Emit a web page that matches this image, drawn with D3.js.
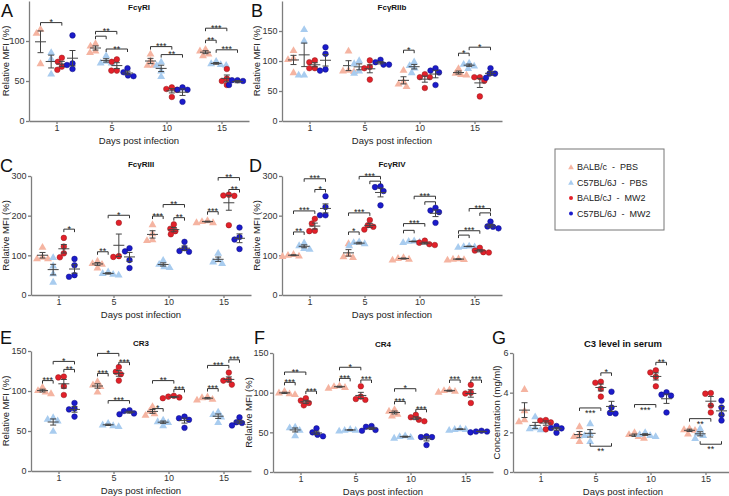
<!DOCTYPE html>
<html><head><meta charset="utf-8">
<script src="https://cdn.jsdelivr.net/npm/d3@7"></script>
<style>
body{margin:0;background:#fff}
text{font-family:"Liberation Sans",Arial,sans-serif}
</style></head><body><svg id="c" width="729" height="496"></svg>
<script>
// ---------- data ----------
const days = ["1", "5", "10", "15"];
const groupNames = ["BALB/c  -  PBS", "C57BL/6J  -  PBS", "BALB/cJ  -  MW2", "C57BL/6J  -  MW2"];

// values per day: [BALB/c PBS, C57BL/6J PBS, BALB/cJ MW2, C57BL/6J MW2]
const fcgr1 = [
  [[115,110,72],[86,78,59],[79,74,68,64],[107,72,70,65]],
  [[97,94,88,86],[82,75,73,73],[77,74,63,63],[66,61,57,56]],
  [[84,76,70,70],[74,70,63,56],[42,40,39,30],[42,39,39,24]],
  [[90,88,84,82],[75,72,71,70],[65,53,50,45],[51,51,50,45]]
];
const fcgr2b = [
  [[118,105,103,81],[153,134,77,77],[101,98,88,88],[123,112,86,84]],
  [[117,85,84,83],[101,96,84,80],[101,90,88,69],[102,98,94,94]],
  [[85,66,62,58],[99,93,89,81],[78,73,73,55],[88,84,81,60]],
  [[88,80,78,77],[97,95,92,88],[73,73,67,41],[88,79,79,72]]
];
const fcgr3 = [
  [[121,96,92,92],[95,74,54,33],[144,122,105,95],[91,75,50,46]],
  [[86,80,78,69],[59,55,53,51],[182,98,96],[118,110,88,68]],
  [[178,155,140,138],[88,78,72,70],[178,167,161,153],[134,118,111,109]],
  [[188,186,183,183],[106,90,84,80],[253,251,250,176],[170,146,140,116]]
];
const fcgr4 = [
  [[103,101,99,98],[132,125,118,116],[192,180,162,161],[249,222,201,201]],
  [[130,103,97,95],[135,133,130,125],[189,176,172,165],[274,272,262,226]],
  [[95,93,91,89],[137,136,134,133],[137,132,128,126],[220,213,209,182]],
  [[92,91,90,89],[124,123,122,121],[119,112,108,107],[185,173,172,168]]
];
const cr3 = [
  [[105,101,99,97],[67,65,63,50],[118,117,106,95],[85,78,77,68]],
  [[112,108,106,99],[60,58,57,56],[130,124,121,113],[76,75,72,71]],
  [[81,75,72,70],[64,62,61,57],[94,93,92,91],[68,66,64,54]],
  [[93,92,90,89],[74,71,68,61],[123,114,113,108],[67,61,60,57]]
];
const cr4 = [
  [[102,100,99,98],[57,56,53,46],[93,90,87,84],[55,50,47,45]],
  [[109,108,107,106],[54,53,53,52],[108,95,92,91],[58,57,53,52]],
  [[79,77,73,71],[46,45,44,43],[72,69,66,64],[45,44,44,34]],
  [[104,103,102,101],[55,54,54,53],[110,100,99,87],[52,51,51,50]]
];
const c3serum = [
  [[4.18,3.1,2.65,2.55],[2.8,2.25,2.2,2.15],[2.62,2.6,2.5,2.15],[2.32,2.22,2.2,1.98]],
  [[2.3,1.9,1.8,1.55],[2.45,1.95,1.85,1.55],[4.55,4.5,4.2,3.8],[4.05,3.25,2.98,2.95]],
  [[2.0,1.9,1.8,1.72],[2.0,1.9,1.85,1.8],[5.13,5.02,4.8,4.32],[4.02,3.9,3.85,3.0]],
  [[2.2,2.15,2.12,1.93],[2.2,1.95,1.85,1.7],[3.98,3.95,3.35,3.0],[3.6,3.25,2.88,2.6]]
];

// significance brackets: [dayIndex, fromGroup, toGroup, value, label, mode]
const fcgr1Sig = [[0,0,2,123,"*"],[1,0,2,112,"**"],[1,0,1,106,""],[1,1,3,90,"**"],[2,0,2,93,"***"],[2,1,3,83,"**"],[3,0,2,116,"***"],[3,0,1,101,"**"],[3,1,3,89,"***"]];
const fcgr2bSig = [[2,0,1,118,"*"],[3,0,1,113,"*"],[3,1,3,123,"*"]];
const fcgr3Sig = [[0,2,3,166,"*"],[1,0,1,109,"**"],[1,1,3,201,"*"],[2,0,1,199,"***"],[2,1,3,228,"**"],[2,2,3,195,"**"],[3,0,1,210,"***"],[3,1,3,296,"**"],[3,2,3,266,"**"]];
const fcgr4Sig = [[0,0,1,159,"**"],[0,0,2,212,"***"],[0,2,3,266,"*"],[0,1,3,293,"***"],[1,0,1,159,"*"],[1,0,2,207,"***"],[1,2,3,287,""],[1,1,3,299,"***"],[2,0,1,163,""],[2,0,2,180,"***"],[2,2,3,235,""],[2,1,3,249,"***"],[3,0,1,151,""],[3,0,2,162,"***"],[3,2,3,207,""],[3,1,3,218,"***"]];
const cr3Sig = [[0,0,1,113,"***"],[0,1,3,137,"*"],[0,2,3,127,"**"],[1,0,2,147,"*"],[1,0,1,122,"***"],[1,2,3,136,"***"],[1,1,3,88,"***"],[2,0,2,113,"**"],[2,0,1,78,"*"],[2,2,3,102,"***"],[3,0,2,132,"***"],[3,0,1,103,"***"],[3,2,3,139,"***"]];
const cr4Sig = [[0,0,2,126,"**"],[0,0,1,113,"***"],[0,2,3,102,"***"],[1,0,2,132,"*"],[1,0,1,118,"***"],[1,2,3,116,"***"],[2,0,2,105,"*"],[2,0,1,89,"***"],[2,2,3,79,"***"],[3,0,1,116,"***"],[3,2,3,116,"***"]];
const c3Sig = [[1,0,2,3.23,"***",1],[1,2,3,5.0,"*"],[1,1,3,1.3,"**",2],[2,0,2,3.4,"***",1],[2,2,3,5.53,"**"],[3,0,2,2.69,"**",1],[3,1,3,1.4,"**",2]];

const yTicksMFI150 = [0,50,100,150];
const yTicksMFI300 = [0,100,200,300];
const yTicksConc = [0,2,4,6];

// ---------- styles ----------
const fills = ["#F5B4A1","#A8CCEF","#E3202A","#1B1BCB"];
const strokes = [null,null,"#8e1a1a","#0c0c7a"];
const axisColor = "#7d7d7d";
const barColor = "#444";

const svg = d3.select("#c");

const panels = [
  {letter:"A", lx:1,   ly:17,  title:"FcγRI",   tdy:9,  data:fcgr1, sig:fcgr1Sig, max:150, ticks:[0,50,100], x0:29,  y0:121, y1:1,   ylab:"Relative MFI (%)", ylx:5, tsize:8},
  {letter:"B", lx:251, ly:17,  title:"FcγRIIb", tdy:9,  data:fcgr2b, sig:fcgr2bSig, max:200, ticks:[0,50,100,150], x0:282, y0:121, y1:1, ylab:"Relative MFI (%)", ylx:256, tsize:8},
  {letter:"C", lx:0,   ly:172, title:"FcγRIII", tdy:-9, data:fcgr3, sig:fcgr3Sig, max:300, ticks:yTicksMFI300, x0:31, y0:295, y1:176, ylab:"Relative MFI (%)", ylx:5, tsize:8},
  {letter:"D", lx:249, ly:172, title:"FcγRIV",  tdy:-9, data:fcgr4, sig:fcgr4Sig, max:300, ticks:yTicksMFI300, x0:282, y0:295, y1:176, ylab:"Relative MFI (%)", ylx:256, tsize:8},
  {letter:"E", lx:0,   ly:344, title:"CR3",     tdy:-5, data:cr3, sig:cr3Sig, max:150, ticks:yTicksMFI150, x0:31, y0:471, y1:351, ylab:"Relative MFI (%)", ylx:5, tsize:8},
  {letter:"F", lx:254, ly:344, title:"CR4",     tdy:-6, data:cr4, sig:cr4Sig, max:150, ticks:yTicksMFI150, x0:273, y0:472, y1:353, ylab:"Relative MFI (%)", ylx:248, tsize:8},
  {letter:"G", lx:492, ly:344, title:"C3 level in serum", tdy:-6, data:c3serum, sig:c3Sig, max:6, ticks:yTicksConc, x0:513, y0:472, y1:353, ylab:"Concentration (mg/ml)", ylx:496, tsize:9.5}
];

const R = 2.8;
const triPath = d3.symbol().type(d3.symbolTriangle).size(27)();

function swarm(vals, y){
  const placed = [];
  vals.map((v,i)=>({v,i})).sort((a,b)=>b.v-a.v).forEach(o=>{
    const py = y(o.v);
    for(let k=0;k<60;k++){
      const dx = (k%2===0?1:-1)*Math.ceil(k/2)*0.5;
      if(placed.every(q=>Math.hypot(q.dx-dx,q.py-py)>=R*1.95)){placed.push({dx,py,v:o.v});break;}
    }
  });
  return placed;
}

function drawPanel(p){
  const g = svg.append("g");
  const x = d3.scalePoint().domain(days).range([p.x0, p.x0+220]).padding(0.5);
  const off = d3.scalePoint().domain(d3.range(4)).range([-16,16]);
  const y = d3.scaleLinear().domain([0,p.max]).range([p.y0,p.y1]);

  // letter & title
  g.append("text").attr("x",p.lx).attr("y",p.ly).attr("font-size",18).attr("fill","#111").text(p.letter);
  g.append("text").attr("x",p.x0+110).attr("y",p.y1+p.tdy)
    .attr("text-anchor","middle").attr("font-size",p.tsize).attr("font-weight","bold").attr("fill","#111").text(p.title);

  // axes
  const xa = g.append("g").attr("transform",`translate(0,${p.y0})`)
    .call(d3.axisBottom(x).tickSize(3).tickSizeOuter(0).tickPadding(1));
  const ya = g.append("g").attr("transform",`translate(${p.x0},0)`)
    .call(d3.axisLeft(y).tickValues(p.ticks).tickFormat(d3.format("d")).tickSize(3).tickSizeOuter(0).tickPadding(1.5));
  [xa,ya].forEach(a=>{
    a.selectAll("path,line").attr("stroke",axisColor).attr("stroke-width",1.3);
    a.selectAll("text").attr("font-size",9).attr("fill","#333").attr("font-family","'Liberation Sans',Arial,sans-serif");
  });
  g.append("text").attr("x",p.x0+110).attr("y",p.y0+23).attr("text-anchor","middle")
    .attr("font-size",9.5).attr("fill","#222").text("Days post infection");
  g.append("text").attr("transform",`translate(${p.ylx+3.5},${(p.y0+p.y1)/2}) rotate(-90)`)
    .attr("text-anchor","middle").attr("font-size",9.5).attr("fill","#222").text(p.ylab);

  // points and error bars
  p.data.forEach((dayVals, di)=>{
    dayVals.forEach((vals, gi)=>{
      const cx = x(days[di]) + off(gi);
      const pts = swarm(vals, y);
      const gg = g.append("g");
      pts.forEach(pt=>{
        if(gi<2){
          gg.append("path").attr("d",triPath).attr("transform",`translate(${cx+pt.dx},${pt.py+0.5})`).attr("fill",fills[gi]);
        } else {
          gg.append("circle").attr("cx",cx+pt.dx).attr("cy",pt.py).attr("r",R)
            .attr("fill",fills[gi]).attr("stroke",strokes[gi]).attr("stroke-width",0.5);
        }
      });
      const m = d3.mean(vals);
      const se = d3.deviation(vals)/Math.sqrt(vals.length);
      const eb = g.append("g").attr("stroke",barColor).attr("stroke-width",1).attr("fill","none");
      eb.append("line").attr("x1",cx-5.5).attr("x2",cx+5.5).attr("y1",y(m)).attr("y2",y(m));
      eb.append("line").attr("x1",cx).attr("x2",cx).attr("y1",y(m-se)).attr("y2",y(m+se));
      eb.append("line").attr("x1",cx-3).attr("x2",cx+3).attr("y1",y(m-se)).attr("y2",y(m-se));
      eb.append("line").attr("x1",cx-3).attr("x2",cx+3).attr("y1",y(m+se)).attr("y2",y(m+se));
    });
  });

  // significance brackets
  p.sig.forEach(s=>{
    const [di,a,b,v,lab,mode] = s;
    const xa1 = x(days[di])+off(a), xb1 = x(days[di])+off(b), yy = y(v);
    const dir = mode===2 ? -1 : 1; // 2: ticks up (bracket under data)
    g.append("path").attr("d",`M${xa1},${yy+3*dir}V${yy}H${xb1}V${yy+3*dir}`)
      .attr("fill","none").attr("stroke","#333").attr("stroke-width",1);
    if(lab){
      const ty = mode ? yy+8 : yy+2.5;
      g.append("text").attr("x",(xa1+xb1)/2).attr("y",ty).attr("text-anchor","middle")
        .attr("font-size",9).attr("fill","#222").text(lab);
    }
  });
}
panels.forEach(drawPanel);

// legend
const lg = svg.append("g");
lg.append("rect").attr("x",555).attr("y",149).attr("width",109).attr("height",81)
  .attr("fill","none").attr("stroke","#777").attr("stroke-width",1);
groupNames.forEach((n,i)=>{
  const yy = 167 + i*15.5;
  if(i<2) lg.append("path").attr("d",d3.symbol().type(d3.symbolTriangle).size(14)()).attr("transform",`translate(571,${yy+0.5})`).attr("fill",fills[i]);
  else lg.append("circle").attr("cx",571).attr("cy",yy).attr("r",2).attr("fill",fills[i]);
  lg.append("text").attr("x",577).attr("y",yy).attr("dy","0.35em").attr("font-size",9)
    .attr("fill","#222").style("white-space","pre").text(n);
});
</script></body></html>
